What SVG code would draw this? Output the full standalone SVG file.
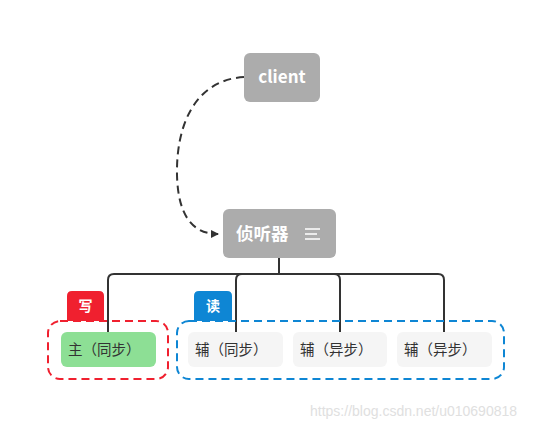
<svg xmlns="http://www.w3.org/2000/svg" width="554" height="429" viewBox="0 0 554 429">
<style>
.gray{fill:#acacac}
.hd{font-family:"Noto Sans CJK SC","Noto Sans",sans-serif;font-weight:bold;fill:#fff}
.leaf{font-family:"Noto Sans CJK SC","Noto Sans",sans-serif;font-size:14.5px;fill:#333}
.conn{fill:none;stroke:#333;stroke-width:2}
.tag{font-family:"Noto Sans CJK SC",sans-serif;font-size:14px;font-weight:bold;fill:#fff}
</style>
<defs>
<marker id="arr" markerWidth="8" markerHeight="8" refX="7" refY="4" orient="auto" markerUnits="userSpaceOnUse">
<path d="M0,0 L8,4 L0,8 Z" fill="#333"/>
</marker>
</defs>
<rect width="554" height="429" fill="#fff"/>
<g id="connectors">
<path class="conn" d="M244,77 C195,80 176,125 177,175 C178,215 192,234 218,234" stroke-dasharray="8,5" marker-end="url(#arr)"/>
<path class="conn" d="M279,258 V274"/>
<path class="conn" d="M108,332 V280 Q108,274 114,274 H438 Q444,274 444,280 V332"/>
<path class="conn" d="M236,332 V280 Q236,274 242,274"/>
<path class="conn" d="M334,274 Q340,274 340,280 V332"/>
</g>
<g id="group-write">
<rect x="48" y="321" width="120" height="58" rx="12" fill="none" stroke="#f0202f" stroke-width="2" stroke-dasharray="8,5"/>
<path d="M67,321 V296 Q67,291 72,291 H99 Q104,291 104,296 V321 Z" fill="#f0202f"/>
<text class="tag" x="85.5" y="311" text-anchor="middle">写</text>
</g>
<g id="group-read">
<rect x="177" y="321" width="327" height="58" rx="12" fill="none" stroke="#0e86d4" stroke-width="2" stroke-dasharray="8,5"/>
<path d="M194,321 V296 Q194,291 199,291 H227 Q232,291 232,296 V321 Z" fill="#0e86d4"/>
<text class="tag" x="213" y="311" text-anchor="middle">读</text>
</g>
<g id="client">
<rect class="gray" x="244" y="53" width="76" height="49" rx="6"/>
<text class="hd" x="282" y="83" font-size="17" text-anchor="middle">client</text>
</g>
<g id="listener">
<rect class="gray" x="223" y="209" width="113" height="49" rx="6"/>
<text class="hd" x="236" y="240" font-size="17.5">侦听器</text>
<path d="M305,229 H320 M305,234 H317 M305,239 H320" stroke="#fff" stroke-width="1.5"/>
</g>
<g id="master">
<rect x="61" y="332" width="95" height="35" rx="6" fill="#8ddf95"/>
<text class="leaf" x="68" y="355">主（同步）</text>
</g>
<g id="slave1">
<rect x="188" y="332" width="95" height="35" rx="6" fill="#f5f5f5"/>
<text class="leaf" x="195" y="355">辅（同步）</text>
</g>
<g id="slave2">
<rect x="293" y="332" width="94" height="35" rx="6" fill="#f5f5f5"/>
<text class="leaf" x="300" y="355">辅（异步）</text>
</g>
<g id="slave3">
<rect x="397" y="332" width="95" height="35" rx="6" fill="#f5f5f5"/>
<text class="leaf" x="404" y="355">辅（异步）</text>
</g>
<text x="310" y="416" font-family="Liberation Sans,Arial,sans-serif" font-size="14" fill="#e0e0e0">https://blog.csdn.net/u010690818</text>
</svg>
